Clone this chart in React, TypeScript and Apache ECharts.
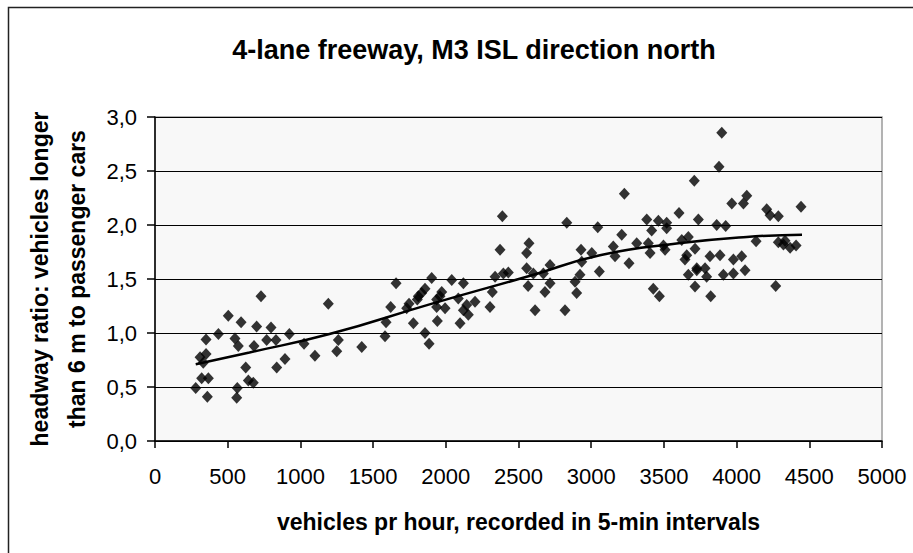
import React, { useEffect, useRef } from "react";
import * as echarts from "echarts";

const titleText = "4-lane freeway, M3 ISL direction north";
const xAxisName = "vehicles pr hour, recorded in 5-min intervals";
const yAxisName = "headway ratio: vehicles longer\nthan 6 m to passenger cars";

// observed points: [vehicles per hour, headway ratio]
const pointsLow: number[][] = [
  [729, 1.34], [1192, 1.27], [504, 1.16], [592, 1.1], [699, 1.06], [798, 1.05],
  [436, 0.99], [924, 0.99], [351, 0.94], [550, 0.95], [573, 0.88], [681, 0.88],
  [768, 0.935], [832, 0.935], [1025, 0.9], [1261, 0.935], [1250, 0.83], [1100, 0.79],
  [894, 0.76], [837, 0.68], [624, 0.68], [310, 0.775], [351, 0.805], [332, 0.725],
  [321, 0.58], [367, 0.58], [280, 0.49], [360, 0.41], [566, 0.49], [562, 0.4],
  [642, 0.56], [676, 0.54],
];
const pointsMid: number[][] = [
  [2389, 2.08], [2373, 1.77], [2556, 1.74], [2572, 1.83], [2556, 1.6], [2566, 1.435],
  [1658, 1.46], [1903, 1.51], [2041, 1.49], [2121, 1.46], [2339, 1.52], [2396, 1.55],
  [2430, 1.56], [2320, 1.38], [2304, 1.24], [2201, 1.29], [2144, 1.26], [2121, 1.21],
  [2155, 1.17], [2098, 1.09], [2086, 1.32], [1972, 1.38], [1960, 1.34], [1937, 1.31],
  [1995, 1.23], [1937, 1.24], [1942, 1.11], [1857, 1.41], [1834, 1.37], [1811, 1.34],
  [1804, 1.31], [1747, 1.27], [1731, 1.23], [1621, 1.24], [1589, 1.1], [1777, 1.09],
  [1582, 0.97], [1857, 1.0], [1885, 0.9], [1422, 0.87],
];
const pointsHigh: number[][] = [
  [3228, 2.29], [3709, 2.41], [3604, 2.11], [2832, 2.02], [3045, 1.98], [3382, 2.05],
  [3462, 2.04], [3519, 2.02], [3416, 1.95], [3519, 1.97], [3737, 2.05], [3210, 1.91],
  [3313, 1.83], [3393, 1.83], [3405, 1.74], [3508, 1.77], [3497, 1.81], [3623, 1.86],
  [3668, 1.89], [3714, 1.78], [3657, 1.72], [3645, 1.68], [3668, 1.54], [3714, 1.43],
  [3726, 1.6], [3152, 1.8], [3164, 1.71], [3260, 1.645], [3004, 1.74], [2930, 1.77],
  [2935, 1.66], [3056, 1.57], [2602, 1.55], [2717, 1.63], [2671, 1.55], [2717, 1.46],
  [2682, 1.38], [2614, 1.21], [2820, 1.21], [2923, 1.54], [2889, 1.475], [2900, 1.37],
  [3427, 1.41], [3469, 1.34],
];
const pointsTop: number[][] = [
  [3898, 2.855], [3879, 2.54], [4070, 2.27], [4047, 2.2], [3967, 2.2], [4207, 2.145],
  [4230, 2.09], [4287, 2.08], [4443, 2.17], [3863, 2.0], [3925, 1.99], [4134, 1.85],
  [4287, 1.84], [4333, 1.855], [4368, 1.79], [4409, 1.81], [4322, 1.82], [3817, 1.71],
  [3886, 1.72], [3978, 1.68], [4035, 1.71], [4058, 1.58], [3978, 1.55], [3909, 1.54],
  [3783, 1.6], [3794, 1.52], [3726, 1.58], [3822, 1.34], [4269, 1.435],
];
// trend line
const trendPoints: number[][] = [
  [280, 0.71], [650, 0.82], [1200, 0.99], [1900, 1.27], [2580, 1.53],
  [3060, 1.72], [3600, 1.83], [4070, 1.89], [4450, 1.91],
];

export default function App() {
  const ref = useRef<HTMLDivElement>(null);
  useEffect(() => {
    if (!ref.current) return;
    const chart = echarts.init(ref.current, undefined, { renderer: "svg" });
    const font = "Liberation Sans, Arial, sans-serif";
    chart.setOption({
      animation: false,
      backgroundColor: "#ffffff",
      title: {
        text: titleText,
        left: 469,
        top: 31,
        textAlign: "center",
        textStyle: { fontFamily: font, fontSize: 27, fontWeight: "bold", color: "#000" },
      },
      graphic: [
        {
          type: "rect",
          shape: { x: 8.5, y: 7.5, width: 1200, height: 1200 },
          style: { fill: "none", stroke: "#222", lineWidth: 1.5 },
          silent: true,
          z: 100,
        },
      ],
      grid: {
        left: 155,
        top: 117,
        right: 31,
        bottom: 112,
        show: true,
        backgroundColor: "#f8f8f8",
        borderColor: "#9a9a9a",
        borderWidth: 1.5,
      },
      xAxis: {
        type: "value",
        min: 0,
        max: 5000,
        interval: 500,
        name: xAxisName,
        nameLocation: "middle",
        nameGap: 69,
        nameTextStyle: { fontFamily: font, fontSize: 23, fontWeight: "bold", color: "#000" },
        axisLine: { show: true, onZero: false, lineStyle: { color: "#000", width: 1.5 } },
        axisTick: { show: true, inside: false, length: 7, lineStyle: { color: "#000", width: 1.5 } },
        axisLabel: {
          fontFamily: font,
          fontSize: 22,
          color: "#000",
          margin: 24,
          formatter: (v: number) => String(Math.round(v)),
        },
        splitLine: { show: false },
      },
      yAxis: {
        type: "value",
        min: 0,
        max: 3,
        interval: 0.5,
        name: yAxisName,
        nameLocation: "middle",
        nameGap: 60,
        nameTextStyle: {
          fontFamily: font,
          fontSize: 23,
          fontWeight: "bold",
          color: "#000",
          lineHeight: 37,
          align: "center",
        },
        axisLine: { show: true, onZero: false, lineStyle: { color: "#000", width: 1.5 } },
        axisTick: { show: true, inside: false, length: 8, lineStyle: { color: "#000", width: 1.5 } },
        axisLabel: {
          fontFamily: font,
          fontSize: 22,
          color: "#000",
          margin: 18,
          formatter: (v: number) => v.toFixed(1).replace(".", ","),
        },
        splitLine: { show: true, lineStyle: { color: "#000", width: 1 } },
      },
      series: [
        {
          type: "scatter",
          symbol: "diamond",
          symbolSize: [11, 12],
          itemStyle: { color: "#000" },
          data: [...pointsLow, ...pointsMid, ...pointsHigh, ...pointsTop],
          z: 3,
        },
        {
          type: "line",
          data: trendPoints,
          smooth: true,
          showSymbol: false,
          symbol: "none",
          lineStyle: { color: "#000", width: 2.5 },
          z: 4,
        },
      ],
    });
    return () => chart.dispose();
  }, []);
  return (
    <div
      ref={ref}
      style={{ position: "fixed", left: 0, top: 0, width: 913, height: 553 }}
    />
  );
}
